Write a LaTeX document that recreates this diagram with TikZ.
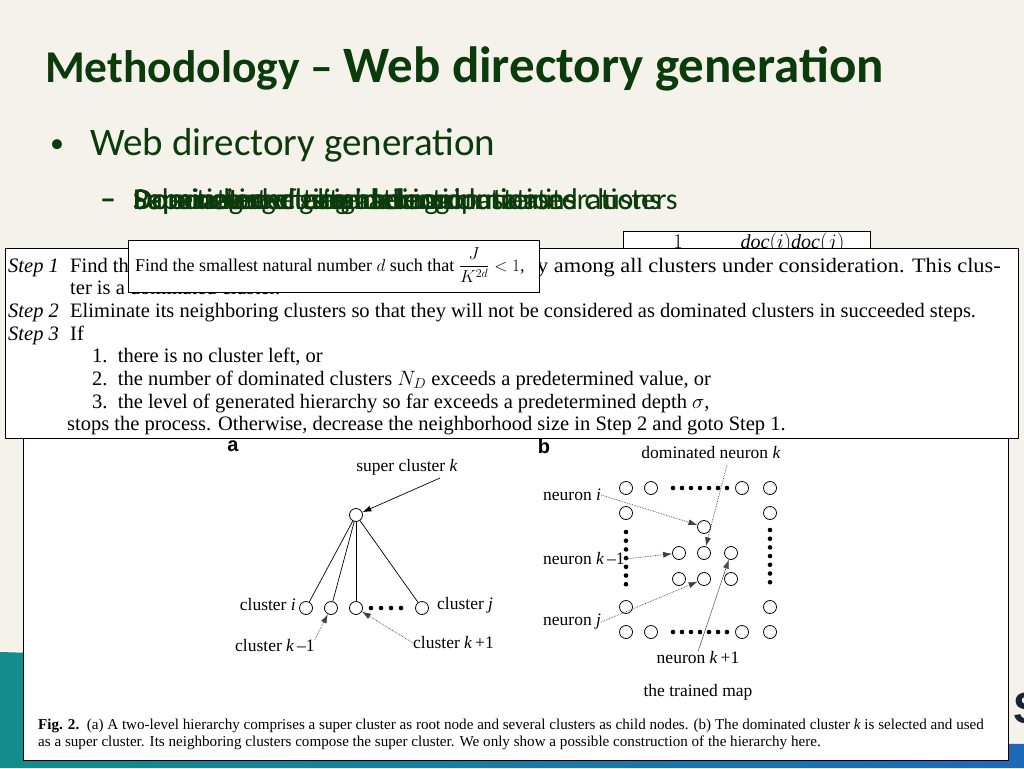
\documentclass[tikz,border=0pt]{standalone}
\usepackage{fontspec}
\setmainfont{Liberation Serif}
\newfontfamily\calib{Carlito}
\newfontfamily\sfa{Liberation Sans}
\usetikzlibrary{arrows.meta}
\definecolor{bg}{RGB}{244,242,234}
\definecolor{dg}{RGB}{11,58,11}
\definecolor{tealc}{RGB}{20,140,140}
\definecolor{bluec}{RGB}{30,105,185}
\definecolor{logoc}{RGB}{25,35,55}
\tikzset{
  stx/.style={anchor=base west, inner sep=0pt, font=\fontsize{20.5}{22}\selectfont},
  lbl/.style={inner sep=0pt, font=\fontsize{17.5}{19}\selectfont},
  captx/.style={anchor=base west, inner sep=0pt, font=\fontsize{15.1}{17}\selectfont},
  nc/.style={circle, draw, fill=white, minimum size=13pt, inner sep=0pt, line width=0.8pt},
  dt/.style={circle, fill=black, minimum size=4.6pt, inner sep=0pt},
  sarr/.style={-{Latex[length=9pt,width=6pt]}, line width=0.7pt},
  darr/.style={-{Latex[length=9pt,width=6pt]}, densely dotted, line width=0.7pt, black!75},
  sub/.style={anchor=base west, inner sep=0pt, text=dg, font=\calib\fontsize{30}{32}\selectfont},
}
\begin{document}
\begin{tikzpicture}[x=1pt,y=-1pt]
\useasboundingbox (0,0) rectangle (1024,768);
\fill[bg] (0,0) rectangle (1024,768);
\shade[left color=tealc, right color=bluec] (0,652) .. controls (300,660) and (700,740) .. (1024,744) -- (1024,768) -- (0,768) -- cycle;
\node[anchor=center, text=logoc, font=\sfa\bfseries\fontsize{44}{44}\selectfont] (logo) at (1028,708) {S};

% title
\node[anchor=base west, inner sep=0pt, text=dg] (title) at (45,82)
  {\calib\bfseries\fontsize{45.5}{48}\selectfont Methodology – \fontsize{51}{54}\selectfont Web directory generation};
\node[anchor=base west, inner sep=0pt, text=dg, font=\calib\fontsize{28}{30}\selectfont] (bul) at (50,152) {•};
\node[anchor=base west, inner sep=0pt, text=dg, font=\calib\fontsize{39}{42}\selectfont] (l1) at (90,155) {Web directory generation};
\node[sub, font=\calib\bfseries\fontsize{32}{32}\selectfont] (dash) at (100,209) {–};
\node[sub] (s1) at (133,209) {Super cluster generation};
\node[sub] (s2) at (133,209) {Selecting and eliminating dominated clusters};
\node[sub] (s3) at (133,209) {Dominated cluster determination iterations};
\node[sub] (s4) at (133,209) {Parameter setting and computations};
\node[sub] (s5) at (134,209) {Dominating cluster selection};
\node[sub] (s6) at (133.5,209) {Separation of neighboring clusters};

% figure box
\draw[fill=white, line width=0.8pt] (23,250) rectangle (1008,760);
% box behind
\draw[fill=white, line width=0.8pt] (623,231) rectangle (870,275);
\node[anchor=base, inner sep=0pt, font=\fontsize{20}{22}\selectfont] (sumf) at (763,263)
  {$\displaystyle\frac{1}{|C_k|}\sum_{i,j}\frac{\mathit{doc}(i)\mathit{doc}(j)}{\|\mathit{doc}(i)\|\|\mathit{doc}(j)\|}$};

% steps box
\draw[fill=white, line width=0.9pt] (5,248) rectangle (1018,438);
\node[stx] (st1) at (8,272) {\textit{Step 1}};
\node[stx] (t1a) at (70,272) {Find the dominated cluster};
\node[stx] (t1b) at (537,272) {\scalebox{1.09}[1]{y among all clusters under consideration. This clus-}};
\node[stx] (t2) at (70,294) {ter is a dominated cluster.};
\node[stx] (st2) at (8,317) {\textit{Step 2}};
\node[stx] (t3) at (70,317) {Eliminate its neighboring clusters so that they will not be considered as dominated clusters in succeeded steps.};
\node[stx] (st3) at (8,340) {\textit{Step 3}};
\node[stx] (t4) at (70,340) {If};
\node[stx] (n1) at (92,362) {1.\ \ there is no cluster left, or};
\node[stx] (n2) at (92,385) {2.\ \ the number of dominated clusters $N_D$ exceeds a predetermined value, or};
\node[stx] (n3) at (92,408) {3.\ \ the level of generated hierarchy so far exceeds a predetermined depth $\sigma$,};
\node[stx] (t5) at (67,430) {stops the process. Otherwise, decrease the neighborhood size in Step 2 and goto Step 1.};

% formula box on top
\draw[fill=white, line width=0.8pt] (128,240) rectangle (539,292);
\node[stx, font=\fontsize{18}{20}\selectfont] (form) at (135,271) {Find the smallest natural number $d$ such that $\displaystyle\frac{J}{K^{2d}}<1$,};

% figure part a
\node[anchor=center, inner sep=0pt, font=\sfa\bfseries\fontsize{20}{20}\selectfont] (fa) at (233,446) {a};
\node[lbl] (lsup) at (407,467) {super cluster \textit{k}};
\node[nc] (root) at (356,515) {};
\node[nc] (ci) at (306,608) {};
\node[nc] (ckm) at (331,608) {};
\node[nc] (ckp) at (356,608) {};
\node[nc] (cj) at (422,608) {};
\foreach \x in {371,381,391,401} \node[dt] at (\x,608) {};
\foreach \c in {ci,ckm,ckp,cj} \draw[line width=0.7pt] (root) -- (\c);
\coordinate (supA) at (440,478);
\draw[sarr] (supA) -- (root);
\node[lbl, anchor=east] (lci) at (296,605) {cluster \textit{i}};
\node[lbl, anchor=west] (lcj) at (437,605) {cluster \textit{j}};
\node[lbl, anchor=west] (lckm) at (235,646) {cluster \textit{k}\,–1};
\node[lbl, anchor=west] (lckp) at (413,643) {cluster \textit{k}\,+1};
\draw[darr] (lckm.north east) -- (ckm);
\draw[darr] (lckp.west) -- (ckp);

% figure part b
\node[anchor=center, inner sep=0pt, font=\sfa\bfseries\fontsize{20}{20}\selectfont] (fb) at (544,446) {b};
\node[lbl] (ldom) at (711,453) {dominated neuron \textit{k}};
\foreach \y/\n in {488/t,632/b} {
  \node[nc] (\n1) at (626,\y) {};
  \node[nc] (\n2) at (651,\y) {};
  \node[nc] (\n3) at (742,\y) {};
  \node[nc] (\n4) at (770,\y) {};
  \foreach \k in {0,...,6} \node[dt] at (673+9*\k,\y) {};
}
\node[nc] (lt) at (626,513) {};
\node[nc] (lb) at (626,607) {};
\node[nc] (rt) at (770,513) {};
\node[nc] (rb) at (770,607) {};
\foreach \k in {0,...,6} {
  \node[dt] at (626,532+8.7*\k) {};
  \node[dt] at (770,530+8.7*\k) {};
}
\node[nc] (g0) at (704,527) {};
\node[nc] (g11) at (679,553) {};
\node[nc] (g12) at (704,553) {};
\node[nc] (g13) at (731,553) {};
\node[nc] (g21) at (679,579) {};
\node[nc] (g22) at (704,579) {};
\node[nc] (g23) at (731,579) {};
\node[lbl, anchor=west] (lni) at (543,495) {neuron \textit{i}};
\node[lbl, anchor=west] (lnkm) at (543,559) {neuron \textit{k}\,–1};
\node[lbl, anchor=west] (lnj) at (543,622) {neuron \textit{j}};
\node[lbl] (lnkp) at (698,658) {neuron \textit{k}\,+1};
\node[lbl] (lmap) at (698,692) {the trained map};
\draw[darr] (lni.east) -- (g0);
\draw[darr] (lnkm.east) -- (g11);
\draw[darr] (lnj.east) -- (g22);
\coordinate (domA) at (727,465);
\draw[darr] (domA) -- (g12);
\draw[-{Latex[length=9pt,width=6pt]}, line width=0.5pt, black!70] (lnkp.north) -- (g13);

% caption
\node[captx] (c1) at (38,729) {\textbf{Fig. 2.}\ \ (a) A two-level hierarchy comprises a super cluster as root node and several clusters as child nodes. (b) The dominated cluster \textit{k} is selected and used};
\node[captx] (c2) at (38,746) {as a super cluster. Its neighboring clusters compose the super cluster. We only show a possible construction of the hierarchy here.};
\end{tikzpicture}
\end{document}
